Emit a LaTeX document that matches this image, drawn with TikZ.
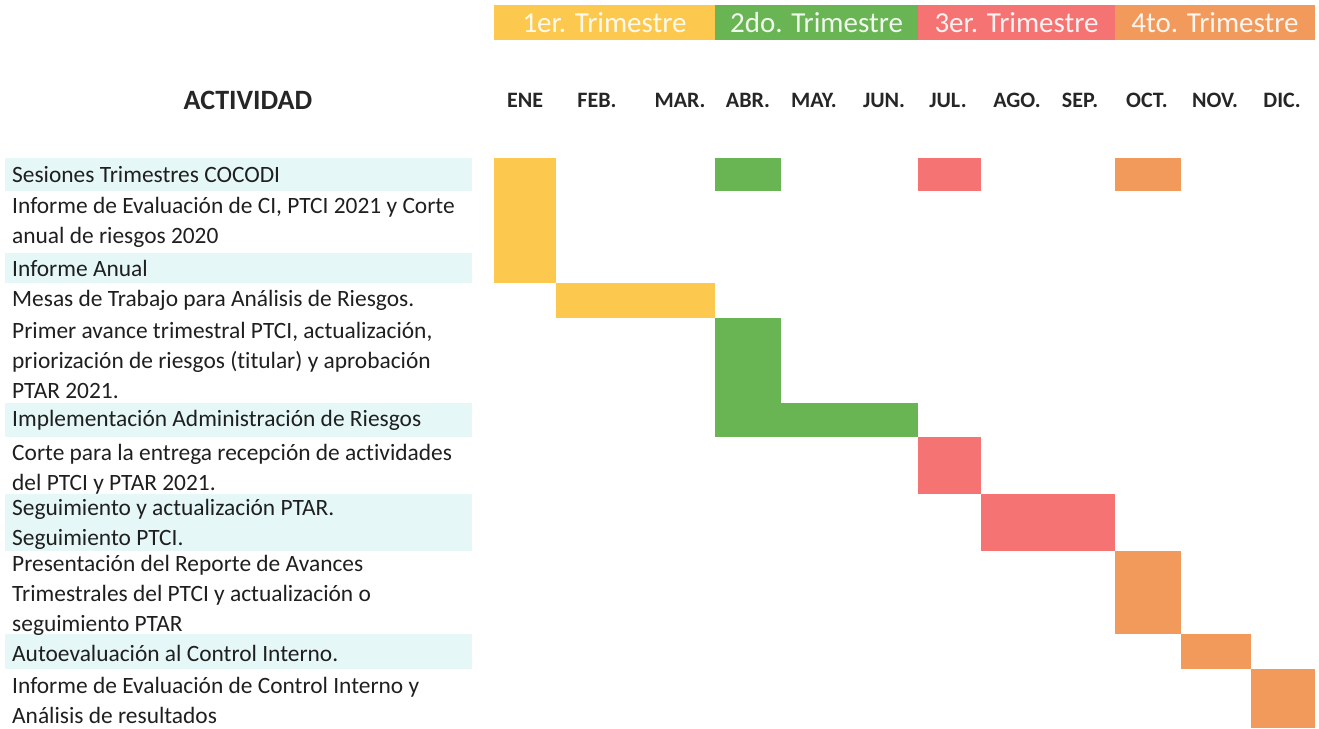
\documentclass[tikz,border=0pt]{standalone}
\usepackage{fontspec}
\setmainfont{Carlito}[Ligatures=NoCommon]
\usetikzlibrary{calc}

\definecolor{trimA}{HTML}{FCC94E}
\definecolor{trimB}{HTML}{6AB553}
\definecolor{trimC}{HTML}{F57373}
\definecolor{trimD}{HTML}{F19A5B}
\definecolor{rowhl}{HTML}{E6F7F7}

\tikzset{
  trimbox/.style={minimum height=35, inner sep=0pt, text=white, text opacity=0.9,
    font=\fontsize{29}{29}\selectfont},
  mes/.style={font=\bfseries\fontsize{22}{22}\selectfont, text=black!85},
  act/.style={anchor=west, align=left, inner sep=0pt, text=black!88,
    font=\fontsize{23.4}{30}\selectfont},
}

\begin{document}
\begin{tikzpicture}[x=1pt,y=-1pt]
  \useasboundingbox (0,0) rectangle (1319,728);
  % bordes de columnas y filas
  \foreach \x [count=\i from 0] in {494,556,637,715,781,848,918,981,1050,1115,1181,1251,1315}
    \coordinate (c\i) at (\x,0);
  \foreach \y [count=\i from 0] in {158,191,253,283,318,403,437,494,551,634,669,728}
    \coordinate (r\i) at (0,\y);

  % franjas
  \foreach \a/\b in {0/1,2/3,5/6,7/8,9/10}
    \fill[rowhl] ([xshift=5pt]r\a) rectangle ([xshift=472pt]r\b);

  % trimestres
  \node[trimbox, fill=trimA, minimum width=221] (t1) at (604.5,22.5) {1er. Trimestre};
  \node[trimbox, fill=trimB, minimum width=203] (t2) at (816.5,22.5) {2do. Trimestre};
  \node[trimbox, fill=trimC, minimum width=197] (t3) at (1016.5,22.5) {3er. Trimestre};
  \node[trimbox, fill=trimD, minimum width=200] (t4) at (1215,22.5) {4to. Trimestre};

  % meses
  \node[font=\bfseries\fontsize{28}{28}\selectfont, text=black!85] (act) at (248,100) {ACTIVIDAD};
  \foreach \m/\x [count=\i] in {ENE/525,FEB./597,MAR./680,ABR./748,MAY./814,JUN./884,JUL./948,AGO./1017,SEP./1080,OCT./1147,NOV./1215,DIC./1282}
    \node[mes] (m\i) at (\x,100) {\m};

  % barras
  \fill[trimA] (c0 |- r0) rectangle (c1 |- r3);
  \fill[trimA] (c1 |- r3) rectangle (c3 |- r4);
  \fill[trimB] (c3 |- r0) rectangle (c4 |- r1);
  \fill[trimB] (c3 |- r4) rectangle (c4 |- r6);
  \fill[trimB] (c4 |- r5) rectangle (c6 |- r6);
  \fill[trimC] (c6 |- r0) rectangle (c7 |- r1);
  \fill[trimC] (c6 |- r6) rectangle (c7 |- r7);
  \fill[trimC] (c7 |- r7) rectangle (c9 |- r8);
  \fill[trimD] (c9 |- r0) rectangle (c10 |- r1);
  \fill[trimD] (c9 |- r8) rectangle (c10 |- r9);
  \fill[trimD] (c10 |- r9) rectangle (c11 |- r10);
  \fill[trimD] (c11 |- r10) rectangle (c12 |- r11);

  % actividades
  \node[act] (a1) at (12,174.5) {Sesiones Trimestres COCODI};
  \node[act] (a2) at (12,222) {Informe de Evaluación de CI, PTCI 2021 y Corte\\anual de riesgos 2020};
  \node[act] (a3) at (12,268) {Informe Anual};
  \node[act] (a4) at (12,300.5) {Mesas de Trabajo para Análisis de Riesgos.};
  \node[act] (a5) at (12,360.5) {Primer avance trimestral PTCI, actualización,\\priorización de riesgos (titular) y aprobación\\PTAR 2021.};
  \node[act] (a6) at (12,420) {Implementación Administración de Riesgos};
  \node[act] (a7) at (12,469.5) {Corte para la entrega recepción de actividades\\del PTCI y PTAR 2021.};
  \node[act] (a8) at (12,524.5) {Seguimiento y actualización PTAR.\\Seguimiento PTCI.};
  \node[act] (a9) at (12,595) {Presentación del Reporte de Avances\\Trimestrales del PTCI y actualización o\\seguimiento PTAR};
  \node[act] (a10) at (12,653) {Autoevaluación al Control Interno.};
  \node[act] (a11) at (12,700) {Informe de Evaluación de Control Interno y\\Análisis de resultados};
\end{tikzpicture}
\end{document}
